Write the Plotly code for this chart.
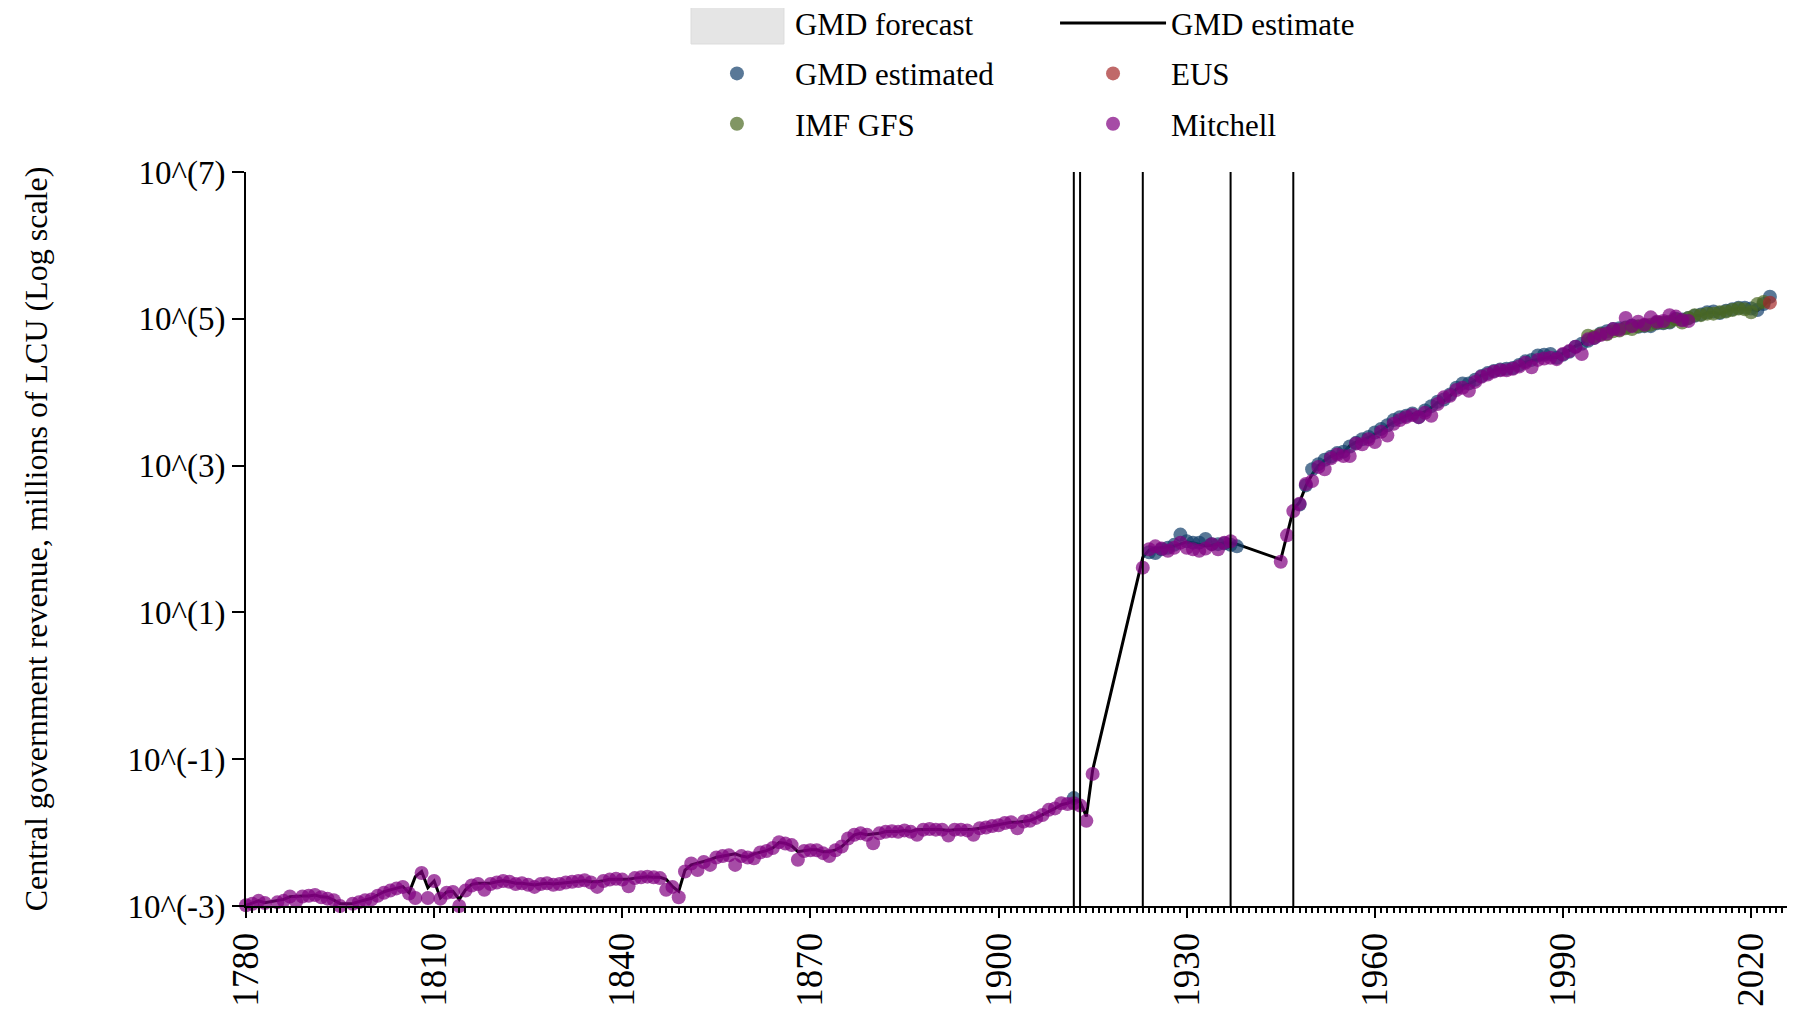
"""Central government revenue (log scale), GMD chart recreated with Plotly."""

import plotly.graph_objects as go

# ---- data (log10 of millions of LCU) ----
EST_YEARS = list(range(1780, 1916)) + list(range(1923, 1939)) + list(range(1945, 2024))
EST_LOG10 = [
    -2.99, -2.96, -2.93, -2.955, -2.94, -2.92, -2.91, -2.875, -2.865, -2.865,
    -2.865, -2.85, -2.875, -2.88, -2.92, -2.965, -2.97, -2.965, -2.94, -2.92,
    -2.895, -2.85, -2.805, -2.78, -2.76, -2.735, -2.82, -2.60, -2.53, -2.75,
    -2.66, -2.89, -2.81, -2.80, -2.91, -2.78, -2.705, -2.69, -2.69, -2.69,
    -2.67, -2.655, -2.67, -2.69, -2.69, -2.70, -2.715, -2.70, -2.69, -2.70,
    -2.69, -2.68, -2.67, -2.655, -2.655, -2.67, -2.67, -2.655, -2.635, -2.635,
    -2.635, -2.635, -2.62, -2.61, -2.60, -2.61, -2.61, -2.635, -2.735, -2.80,
    -2.51, -2.44, -2.42, -2.395, -2.37, -2.335, -2.32, -2.305, -2.29, -2.32,
    -2.335, -2.29, -2.27, -2.245, -2.21, -2.135, -2.145, -2.18, -2.26, -2.245,
    -2.235, -2.235, -2.26, -2.26, -2.235, -2.19, -2.11, -2.03, -2.01, -2.03,
    -2.02, -2.01, -1.985, -1.985, -1.985, -1.97, -1.985, -1.96, -1.955, -1.955,
    -1.955, -1.96, -1.97, -1.96, -1.96, -1.96, -1.955, -1.94, -1.925, -1.91,
    -1.895, -1.87, -1.86, -1.86, -1.85, -1.835, -1.80, -1.76, -1.71, -1.67,
    -1.62, -1.60, -1.56, -1.58, -1.78, -1.15,
    1.75, 1.85, 1.87, 1.88, 1.89, 1.905, 1.93, 1.96, 1.95, 1.93,
    1.905, 1.915, 1.93, 1.95, 1.94, 1.93,
    1.72, 2.06, 2.40, 2.50, 2.72, 2.88, 3.00, 3.07, 3.125, 3.16,
    3.18, 3.27, 3.32, 3.34, 3.38, 3.43, 3.475, 3.54, 3.59, 3.64,
    3.68, 3.70, 3.70, 3.735, 3.79, 3.86, 3.88, 3.95, 4.04, 4.09,
    4.11, 4.16, 4.23, 4.25, 4.295, 4.31, 4.32, 4.33, 4.36, 4.41,
    4.43, 4.45, 4.46, 4.48, 4.47, 4.53, 4.57, 4.63, 4.66, 4.75,
    4.75, 4.795, 4.82, 4.86, 4.86, 4.89, 4.92, 4.91, 4.90, 4.91,
    4.955, 4.955, 4.96, 5.00, 4.98, 5.00, 5.04, 5.05, 5.08, 5.09,
    5.07, 5.10, 5.13, 5.14, 5.14, 5.13, 5.11, 5.18, 5.27,
]

MITCHELL_YEARS = list(range(1780, 1916)) + list(range(1923, 1938)) + list(range(1945, 2011))
MITCHELL_LOG10 = [
    -2.99, -2.97, -2.93, -2.96, -3.05, -2.95, -2.93, -2.87, -2.94, -2.87,
    -2.86, -2.85, -2.88, -2.90, -2.92, -3.00, -3.03, -2.97, -2.95, -2.92,
    -2.91, -2.86, -2.82, -2.79, -2.76, -2.74, -2.83, -2.89, -2.55, -2.89,
    -2.66, -2.90, -2.82, -2.81, -3.00, -2.79, -2.72, -2.70, -2.78, -2.70,
    -2.68, -2.66, -2.67, -2.70, -2.69, -2.71, -2.74, -2.70, -2.69, -2.71,
    -2.70, -2.68, -2.67, -2.66, -2.65, -2.68, -2.74, -2.66, -2.64, -2.63,
    -2.64, -2.73, -2.62, -2.61, -2.60, -2.61, -2.62, -2.78, -2.74, -2.88,
    -2.53, -2.42, -2.51, -2.40, -2.44, -2.34, -2.32, -2.31, -2.44, -2.32,
    -2.34, -2.35, -2.27, -2.25, -2.21, -2.13, -2.15, -2.17, -2.37, -2.25,
    -2.24, -2.24, -2.28, -2.32, -2.24, -2.19, -2.08, -2.03, -2.01, -2.03,
    -2.145, -2.01, -1.99, -1.98, -1.99, -1.97, -1.99, -2.03, -1.96, -1.95,
    -1.96, -1.96, -2.04, -1.96, -1.96, -1.97, -2.03, -1.94, -1.93, -1.91,
    -1.90, -1.87, -1.86, -1.94, -1.85, -1.84, -1.80, -1.76, -1.69, -1.67,
    -1.60, -1.61, -1.60, -1.63, -1.84, -1.20,
    1.61, 1.86, 1.90, 1.87, 1.84, 1.88, 1.95, 1.88, 1.86, 1.84,
    1.87, 1.93, 1.86, 1.95, 1.97,
    1.69, 2.05, 2.38, 2.48, 2.75, 2.79, 2.98, 2.95, 3.10, 3.15,
    3.13, 3.13, 3.30, 3.29, 3.36, 3.32, 3.46, 3.41, 3.57, 3.62,
    3.66, 3.69, 3.66, 3.72, 3.68, 3.84, 3.93, 3.95, 4.03, 4.06,
    4.02, 4.14, 4.21, 4.24, 4.28, 4.30, 4.30, 4.32, 4.35, 4.40,
    4.34, 4.44, 4.46, 4.47, 4.45, 4.52, 4.56, 4.62, 4.52, 4.72,
    4.74, 4.78, 4.80, 4.86, 4.85, 5.01, 4.90, 4.96, 4.92, 5.02,
    4.96, 4.97, 5.05, 5.03, 4.98, 4.97,
]

GMD_YEARS = [1912] + list(range(1924, 1939)) + list(range(1948, 2024))
GMD_LOG10 = [
    -1.53,
    1.82, 1.81, 1.86, 1.88, 1.92, 2.06, 1.97, 1.95, 1.95, 2.00,
    1.93, 1.93, 1.94, 1.92, 1.90,
    2.47, 2.73, 2.95, 3.02, 3.08, 3.12, 3.17, 3.19, 3.26, 3.31,
    3.36, 3.39, 3.45, 3.50, 3.55, 3.62, 3.66, 3.68, 3.71, 3.66,
    3.75, 3.81, 3.87, 3.90, 3.97, 4.06, 4.12, 4.12, 4.17, 4.22,
    4.26, 4.29, 4.31, 4.32, 4.33, 4.37, 4.42, 4.44, 4.50, 4.51,
    4.52, 4.47, 4.51, 4.55, 4.62, 4.66, 4.70, 4.74, 4.80, 4.83,
    4.86, 4.87, 4.88, 4.91, 4.89, 4.90, 4.90, 4.94, 4.94, 4.95,
    5.00, 4.99, 5.01, 5.04, 5.06, 5.09, 5.10, 5.08, 5.11, 5.13,
    5.15, 5.15, 5.14, 5.12, 5.20, 5.30,
]

IMF_YEARS = list(range(1994, 2023))
IMF_LOG10 = [
    4.77, 4.76, 4.79, 4.79, 4.83, 4.84, 4.87, 4.86, 4.90, 4.91,
    4.92, 4.95, 4.95, 4.96, 4.99, 4.95, 5.01, 5.05, 5.05, 5.07,
    5.07, 5.09, 5.10, 5.12, 5.14, 5.13, 5.09, 5.20, 5.23,
]

EUS_YEARS = [2023]
EUS_LOG10 = [5.22]

BREAK_YEARS = [1912, 1913, 1923, 1937, 1947]

Y_TICK_EXP = [-3, -1, 1, 3, 5, 7]
Y_TICK_TEXT = [f"10^({e})" for e in Y_TICK_EXP]

FONT = "Liberation Serif"


def to_level(log_values):
    return [10 ** v for v in log_values]


fig = go.Figure()

fig.add_trace(
    go.Scatter(
        x=[None], y=[None], mode="markers",
        marker={"color": "rgba(0,0,0,0)", "size": 1},
        name="GMD forecast", legend="legend", legendgroup="fc", legendrank=1,
    )
)
fig.add_trace(
    go.Scatter(
        x=EST_YEARS, y=to_level(EST_LOG10), mode="lines",
        line={"color": "black", "width": 3},
        name="GMD estimate", legend="legend2", legendgroup="est", legendrank=1,
    )
)

marker_series = [
    ("GMD estimated", GMD_YEARS, GMD_LOG10, "#123f6b", "legend", 2),
    ("IMF GFS", IMF_YEARS, IMF_LOG10, "#4c6a22", "legend", 3),
    ("EUS", EUS_YEARS, EUS_LOG10, "#a52a2a", "legend2", 2),
    ("Mitchell", MITCHELL_YEARS, MITCHELL_LOG10, "#800080", "legend2", 3),
]
for name, years, vals, color, leg, rank in marker_series:
    fig.add_trace(
        go.Scatter(
            x=years, y=to_level(vals), mode="markers",
            marker={"color": color, "size": 14, "opacity": 0.7},
            cliponaxis=False,
            name=name, legend=leg, legendgroup=name, legendrank=rank,
        )
    )

for yr in BREAK_YEARS:
    fig.add_vline(x=yr, line_color="black", line_width=2)

# grey swatch for the forecast legend entry
fig.add_shape(
    type="rect", xref="paper", yref="paper",
    x0=0.2873, x1=0.3473, y0=1.1744, y1=1.2289,
    fillcolor="#e5e5e5", line={"color": "#dcdcdc", "width": 1},
)

legend_style = {
    "y": 1.2392, "yanchor": "top", "xanchor": "left",
    "font": {"family": FONT, "size": 31, "color": "black"},
    "itemwidth": 106, "tracegroupgap": 7,
    "bgcolor": "rgba(0,0,0,0)", "borderwidth": 0,
}

# the page body adds an 8px offset, so the figure is 8px smaller than the window
fig.update_layout(
    width=1787,
    height=1004,
    margin={"l": 238, "r": 0, "t": 164, "b": 106, "autoexpand": False},
    plot_bgcolor="white",
    paper_bgcolor="white",
    font={"family": FONT, "color": "black"},
    showlegend=True,
    legend={**legend_style, "x": 0.2795},
    legend2={**legend_style, "x": 0.5223},
    xaxis={
        "range": [1780, 2027],
        "tickmode": "linear", "tick0": 1780, "dtick": 30,
        "ticks": "outside", "ticklen": 10, "tickwidth": 2, "tickcolor": "black",
        "showline": True, "linecolor": "black", "linewidth": 2,
        "showgrid": False, "zeroline": False,
        "tickangle": -90,
        "tickfont": {"family": FONT, "size": 37, "color": "black"},
        "minor": {
            "tick0": 1780, "dtick": 1, "ticks": "outside", "ticklen": 5,
            "tickwidth": 1.5, "tickcolor": "black", "showgrid": False,
        },
    },
    yaxis={
        "type": "log",
        "range": [-3, 7],
        "tickvals": [10 ** e for e in Y_TICK_EXP],
        "ticktext": Y_TICK_TEXT,
        "ticks": "outside", "ticklen": 12, "tickwidth": 2, "tickcolor": "black",
        "showline": True, "linecolor": "black", "linewidth": 2,
        "showgrid": False, "zeroline": False,
        "tickfont": {"family": FONT, "size": 33, "color": "black"},
        "title": {
            "text": "Central government revenue, millions of LCU (Log scale)",
            "font": {"family": FONT, "size": 32, "color": "black"},
            "standoff": 70,
        },
    },
)

fig.write_html("out.html")
